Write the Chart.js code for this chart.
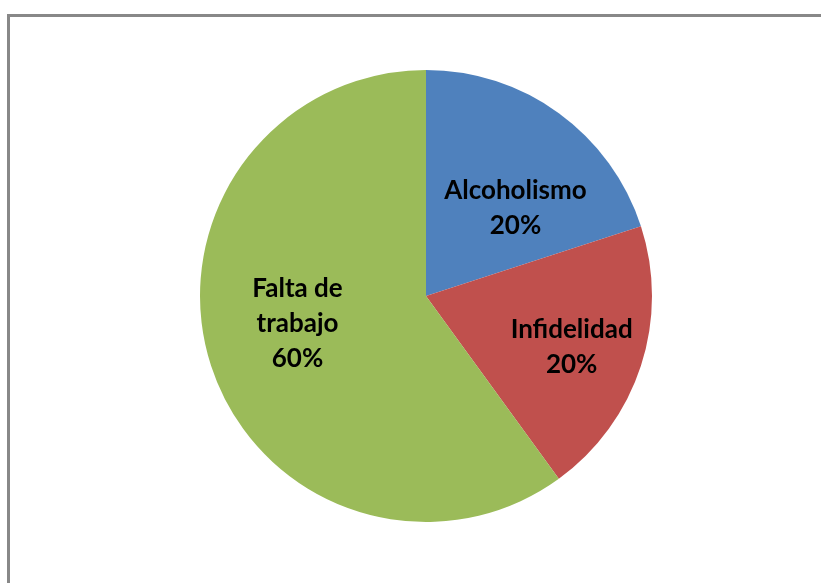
<!DOCTYPE html>
<html>
<head>
<meta charset="utf-8">
<script src="https://cdn.jsdelivr.net/npm/chart.js@4.4.0/dist/chart.umd.min.js"></script>
<style>
  html, body { margin: 0; padding: 0; background: #fff; }
  #wrap { width: 822px; height: 583px; position: relative; }
</style>
</head>
<body>
<div id="wrap"><canvas id="myPieChart" width="822" height="583"></canvas></div>
<script>
const categories = ['Alcoholismo', 'Infidelidad', 'Falta de trabajo'];
const labelLines = [['Alcoholismo'], ['Infidelidad'], ['Falta de', 'trabajo']];
const values = [20, 20, 60];
const colors = ['#4F81BD', '#C0504D', '#9BBB59'];

// Frame around the chart (only left and top are visible in the picture)
const framePlugin = {
  id: 'frame',
  beforeDraw(chart) {
    const ctx = chart.ctx;
    ctx.save();
    ctx.fillStyle = '#fff';
    ctx.fillRect(0, 0, chart.width, chart.height);
    ctx.strokeStyle = '#888888';
    ctx.lineWidth = 3;
    ctx.beginPath();
    ctx.moveTo(8.5, chart.height);
    ctx.lineTo(8.5, 15.5);
    ctx.lineTo(821, 15.5);
    ctx.stroke();
    ctx.restore();
  }
};

// Excel-like data labels: category name + percentage, inside each slice
const sliceLabels = {
  id: 'sliceLabels',
  afterDatasetsDraw(chart, args, opts) {
    const ctx = chart.ctx;
    const meta = chart.getDatasetMeta(0);
    const total = values.reduce((a, v) => a + v, 0);
    ctx.save();
    ctx.font = 'bold 26px Lato';
    ctx.fillStyle = '#000';
    ctx.textAlign = 'center';
    ctx.textBaseline = 'middle';
    meta.data.forEach((arc, i) => {
      const p = arc.getProps(['x', 'y', 'startAngle', 'endAngle', 'outerRadius'], true);
      const mid = (p.startAngle + p.endAngle) / 2 + opts.angleShift[i] * Math.PI / 180;
      const r = p.outerRadius * opts.radiusFrac[i];
      const cx = p.x + Math.cos(mid) * r;
      const cy = p.y + Math.sin(mid) * r + 2;
      const lines = labelLines[i].concat([Math.round(values[i] / total * 100) + '%']);
      const lh = 35;
      const y0 = cy - (lines.length - 1) * lh / 2;
      lines.forEach((t, k) => ctx.fillText(t, cx, y0 + k * lh));
    });
    ctx.restore();
  }
};

new Chart(document.getElementById('myPieChart'), {
  type: 'pie',
  data: {
    labels: categories,
    datasets: [{
      data: values,
      backgroundColor: colors,
      borderWidth: 0
    }]
  },
  options: {
    responsive: false,
    animation: false,
    layout: { padding: { left: 200, right: 170, top: 70, bottom: 61 } },
    plugins: {
      legend: { display: false },
      tooltip: { enabled: false },
      sliceLabels: {
        radiusFrac: [0.56, 0.68, 0.58],
        angleShift: [9, 0.6, 6.6]
      }
    }
  },
  plugins: [framePlugin, sliceLabels]
});
</script>
</body>
</html>
